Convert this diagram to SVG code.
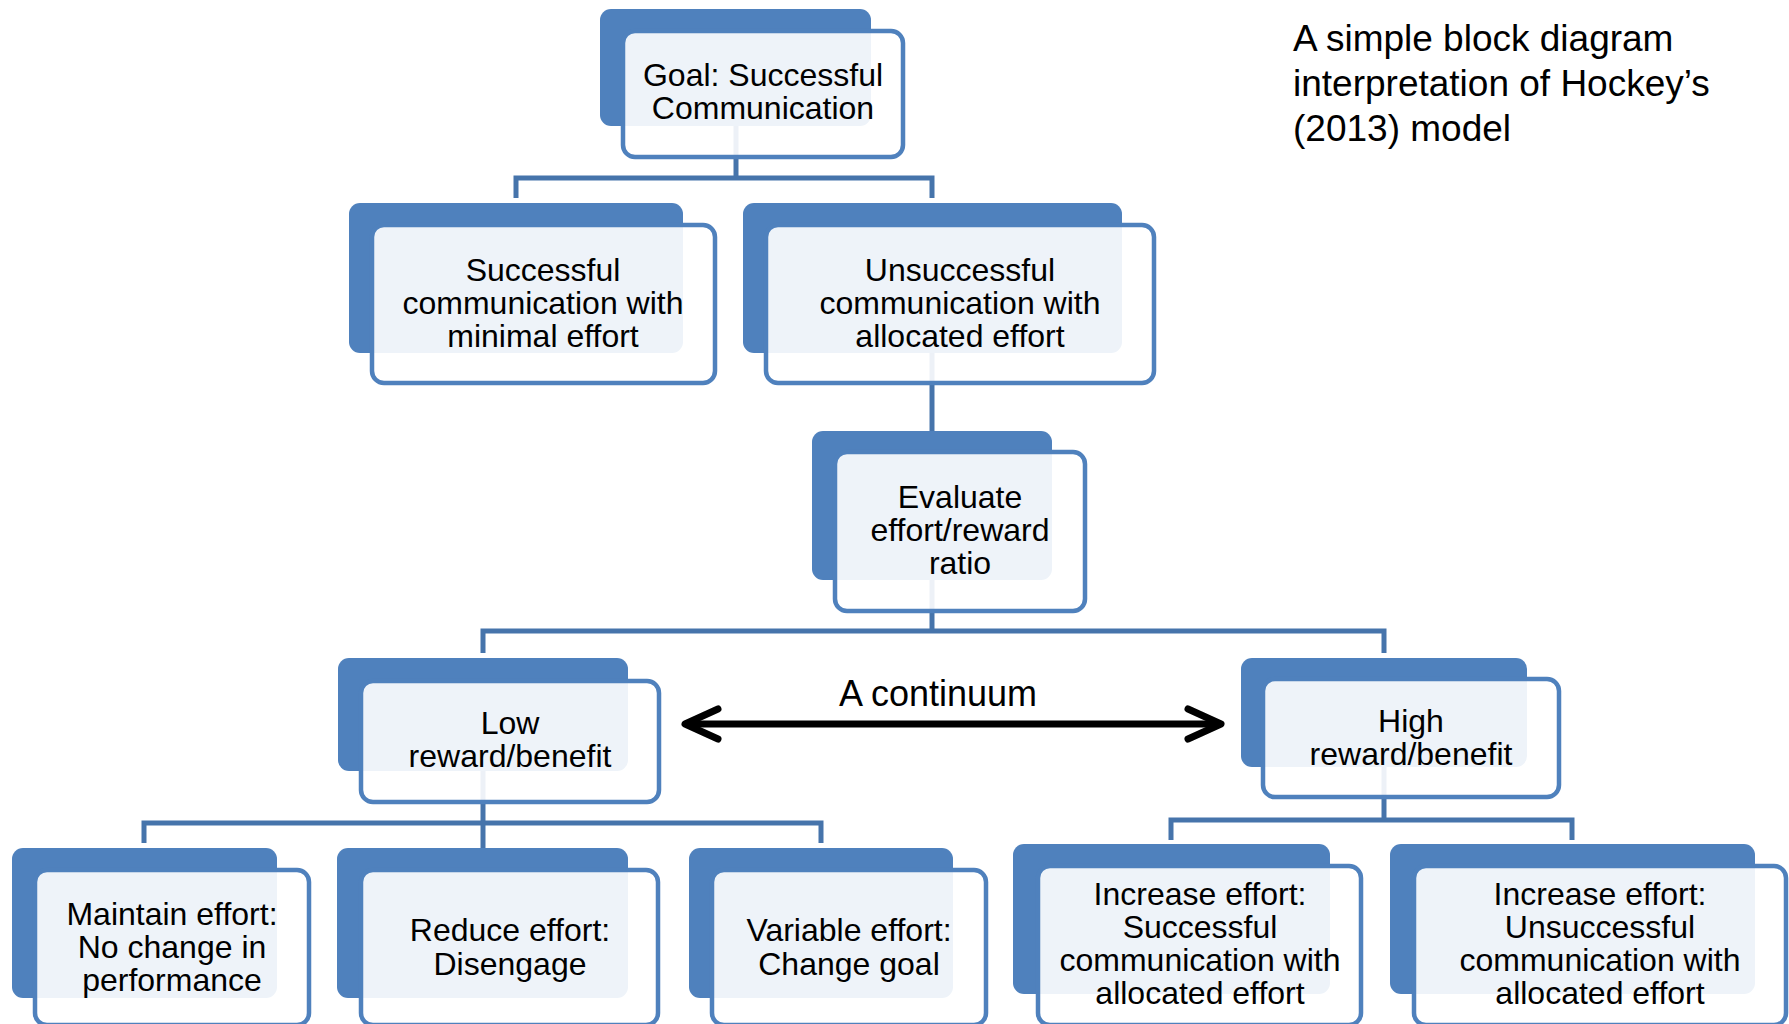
<svg xmlns="http://www.w3.org/2000/svg" width="1789" height="1024" viewBox="0 0 1789 1024">
<style>
.back{fill:#4f81bd}
.front{fill:#ffffff;fill-opacity:0.9;stroke:#4f81bd;stroke-width:4.5}
.lbl{font-family:"Liberation Sans",Arial,sans-serif;font-size:32px;fill:#000;text-anchor:middle}
.conn{fill:none;stroke:#4674ab;stroke-width:5;stroke-linejoin:miter}
.title{font-family:"Liberation Sans",Arial,sans-serif;font-size:37px;fill:#000}
</style>
<defs>
<marker id="chev" viewBox="0 0 40 36" refX="36" refY="18" markerWidth="40" markerHeight="36" markerUnits="userSpaceOnUse" orient="auto-start-reverse" overflow="visible">
<path d="M 3 3 L 36 18 L 3 33" fill="none" stroke="#000" stroke-width="7" stroke-linecap="round" stroke-linejoin="round"/>
</marker>
</defs>
<rect width="1789" height="1024" fill="#ffffff"/>

<g id="connectors">
<polyline class="conn" points="736,126 736,178"/>
<polyline class="conn" points="516,198 516,178 932,178 932,198"/>
<polyline class="conn" points="932,353 932,431"/>
<polyline class="conn" points="932,580 932,631"/>
<polyline class="conn" points="483,653 483,631 1384,631 1384,653"/>
<polyline class="conn" points="483,771 483,823"/>
<polyline class="conn" points="144,843 144,823 821,823 821,843"/>
<polyline class="conn" points="483,823 483,848"/>
<polyline class="conn" points="1384,767 1384,820"/>
<polyline class="conn" points="1171,840 1171,820 1572,820 1572,840"/>
</g>

<g id="goal">
<rect class="back" x="600" y="9" width="271" height="117" rx="11"/>
<rect class="front" x="623" y="31" width="280" height="126" rx="12"/>
<text class="lbl" x="763" y="86">Goal: Successful</text>
<text class="lbl" x="763" y="119">Communication</text>
</g>

<g id="successful-minimal">
<rect class="back" x="349" y="203" width="334" height="150" rx="11"/>
<rect class="front" x="372" y="225" width="343" height="158" rx="12"/>
<text class="lbl" x="543" y="281">Successful</text>
<text class="lbl" x="543" y="314">communication with</text>
<text class="lbl" x="543" y="347">minimal effort</text>
</g>

<g id="unsuccessful-allocated">
<rect class="back" x="743" y="203" width="379" height="150" rx="11"/>
<rect class="front" x="766" y="225" width="388" height="158" rx="12"/>
<text class="lbl" x="960" y="281">Unsuccessful</text>
<text class="lbl" x="960" y="314">communication with</text>
<text class="lbl" x="960" y="347">allocated effort</text>
</g>

<g id="evaluate">
<rect class="back" x="812" y="431" width="240" height="149" rx="11"/>
<rect class="front" x="835" y="452" width="250" height="159" rx="12"/>
<text class="lbl" x="960" y="508">Evaluate</text>
<text class="lbl" x="960" y="541">effort/reward</text>
<text class="lbl" x="960" y="574">ratio</text>
</g>

<g id="low">
<rect class="back" x="338" y="658" width="290" height="113" rx="11"/>
<rect class="front" x="361" y="681" width="298" height="121" rx="12"/>
<text class="lbl" x="510" y="734">Low</text>
<text class="lbl" x="510" y="767">reward/benefit</text>
</g>

<g id="high">
<rect class="back" x="1241" y="658" width="286" height="109" rx="11"/>
<rect class="front" x="1263" y="679" width="296" height="118" rx="12"/>
<text class="lbl" x="1411" y="732">High</text>
<text class="lbl" x="1411" y="765">reward/benefit</text>
</g>

<g id="continuum">
<line x1="685" y1="724" x2="1221" y2="724" stroke="#000" stroke-width="7" marker-start="url(#chev)" marker-end="url(#chev)"/>
<text x="938" y="706" font-family="'Liberation Sans',Arial,sans-serif" font-size="36" text-anchor="middle">A continuum</text>
</g>

<g id="maintain">
<rect class="back" x="12" y="848" width="265" height="150" rx="11"/>
<rect class="front" x="35" y="870" width="274" height="155" rx="12"/>
<text class="lbl" x="172" y="925">Maintain effort:</text>
<text class="lbl" x="172" y="958">No change in</text>
<text class="lbl" x="172" y="991">performance</text>
</g>

<g id="reduce">
<rect class="back" x="337" y="848" width="291" height="150" rx="11"/>
<rect class="front" x="361" y="870" width="297" height="155" rx="12"/>
<text class="lbl" x="510" y="941">Reduce effort:</text>
<text class="lbl" x="510" y="975">Disengage</text>
</g>

<g id="variable">
<rect class="back" x="689" y="848" width="264" height="150" rx="11"/>
<rect class="front" x="712" y="870" width="274" height="155" rx="12"/>
<text class="lbl" x="849" y="941">Variable effort:</text>
<text class="lbl" x="849" y="975">Change goal</text>
</g>

<g id="increase-successful">
<rect class="back" x="1013" y="844" width="317" height="150" rx="11"/>
<rect class="front" x="1038" y="866" width="323" height="159" rx="12"/>
<text class="lbl" x="1200" y="905">Increase effort:</text>
<text class="lbl" x="1200" y="938">Successful</text>
<text class="lbl" x="1200" y="971">communication with</text>
<text class="lbl" x="1200" y="1004">allocated effort</text>
</g>

<g id="increase-unsuccessful">
<rect class="back" x="1390" y="844" width="365" height="150" rx="11"/>
<rect class="front" x="1414" y="866" width="372" height="159" rx="12"/>
<text class="lbl" x="1600" y="905">Increase effort:</text>
<text class="lbl" x="1600" y="938">Unsuccessful</text>
<text class="lbl" x="1600" y="971">communication with</text>
<text class="lbl" x="1600" y="1004">allocated effort</text>
</g>

<g id="title">
<text class="title" x="1293" y="51">A simple block diagram</text>
<text class="title" x="1293" y="96">interpretation of Hockey’s</text>
<text class="title" x="1293" y="141">(2013) model</text>
</g>
</svg>
